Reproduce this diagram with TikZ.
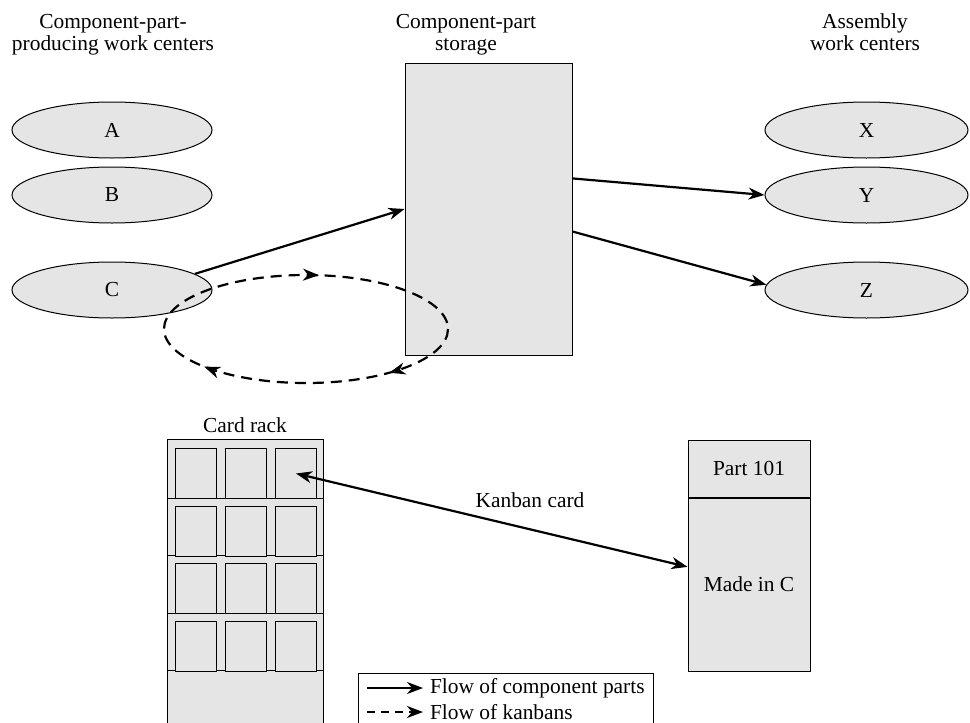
\documentclass[tikz,border=0pt]{standalone}
\usepackage{fontspec}
\setmainfont{Liberation Serif}
\usetikzlibrary{arrows.meta}
\usetikzlibrary{decorations.markings}
\usetikzlibrary{shapes.geometric}

\begin{document}
\begin{tikzpicture}[x=0.5pt, y=-0.5pt, >={Stealth[length=8pt, width=6pt, inset=2.5pt]},
    every node/.style={font=\fontsize{10.7}{11}\selectfont},
    header/.style={align=center, anchor=north},
    wc/.style={draw, ellipse, fill=black!10, line width=0.5pt, minimum width=100pt, minimum height=28pt, inner sep=0pt},
    box/.style={draw, fill=black!10, line width=0.5pt, inner sep=0pt},
    part/.style={->, line width=1.1pt},
    kanban/.style={line width=1.1pt, dash pattern=on 5.5pt off 3.5pt}]
    \useasboundingbox (0,0) rectangle (970,723);
    % headings
    \node[header] (hdrmake) at (113,7) {Component-part-\\producing work centers};
    \node[header] (hdrstore) at (466,7) {Component-part\\storage};
    \node[header] (hdrasm) at (865,7) {Assembly\\work centers};
    % work centers
    \foreach \w/\y in {A/130, B/195, C/290} {
        \node[wc] (\w) at (112,\y) {\w};
    }
    \foreach \w/\y in {X/130, Y/195, Z/290} {
        \node[wc, minimum width=101.5pt] (\w) at (866.5,\y) {\w};
    }
    \node[box, minimum width=83.5pt, minimum height=146pt] (storage) at (488.5,209) {};
    \draw[part] (C.11) -- (storage.west);
    \draw[part] (storage.20) -- (Y.west);
    \draw[part] (storage.-15) -- (Z.177);
    % kanban loop
    \draw[kanban, postaction={decorate}, decoration={markings,
        mark=at position 0.12 with {\arrow{>}},
        mark=at position 0.41 with {\arrow{>}},
        mark=at position 0.77 with {\arrow{>}}}]
        (306,329) ellipse [x radius=142, y radius=54];
    % card rack
    \node (racklabel) at (245,425) {Card rack};
    \node[box, minimum width=78pt, minimum height=146pt, anchor=north] (rack) at (245,439) {};
    \foreach \y in {498,555,613,670} {
        \draw[line width=0.5pt] (167,\y) -- (323,\y);
    }
    \foreach \r/\y in {1/448, 2/506, 3/563, 4/621} {
        \foreach \c/\x in {1/175, 2/225, 3/275} {
            \node[box, minimum width=20.5pt, minimum height=25pt, anchor=north west] (cell\r\c) at (\x,\y) {};
        }
    }
    % kanban card
    \node[box, minimum width=61pt, minimum height=28.5pt] (cardtop) at (749,468.5) {Part 101};
    \node[box, minimum width=61pt, minimum height=86.5pt, anchor=north] (cardbody) at (cardtop.south) {Made in C};
    \draw[<->, line width=1.1pt] (cell13.center) -- (cardbody.164);
    \node (cardlabel) at (530,500) {Kanban card};
    % legend
    \draw[line width=0.5pt] (358,735) -- (358,673) -- (653,673) -- (653,735);
    \node[anchor=west] (legpart) at (423,688) {Flow of component parts};
    \node[anchor=west] (legkan) at (423,712) {Flow of kanbans};
    \coordinate (legpartstart) at (367,688);
    \coordinate (legkanstart) at (367,712);
    \draw[part] (legpartstart) -- (legpart.west);
    \draw[->, line width=1.1pt, dash pattern=on 4pt off 3pt] (legkanstart) -- (legkan.west);
\end{tikzpicture}
\end{document}
